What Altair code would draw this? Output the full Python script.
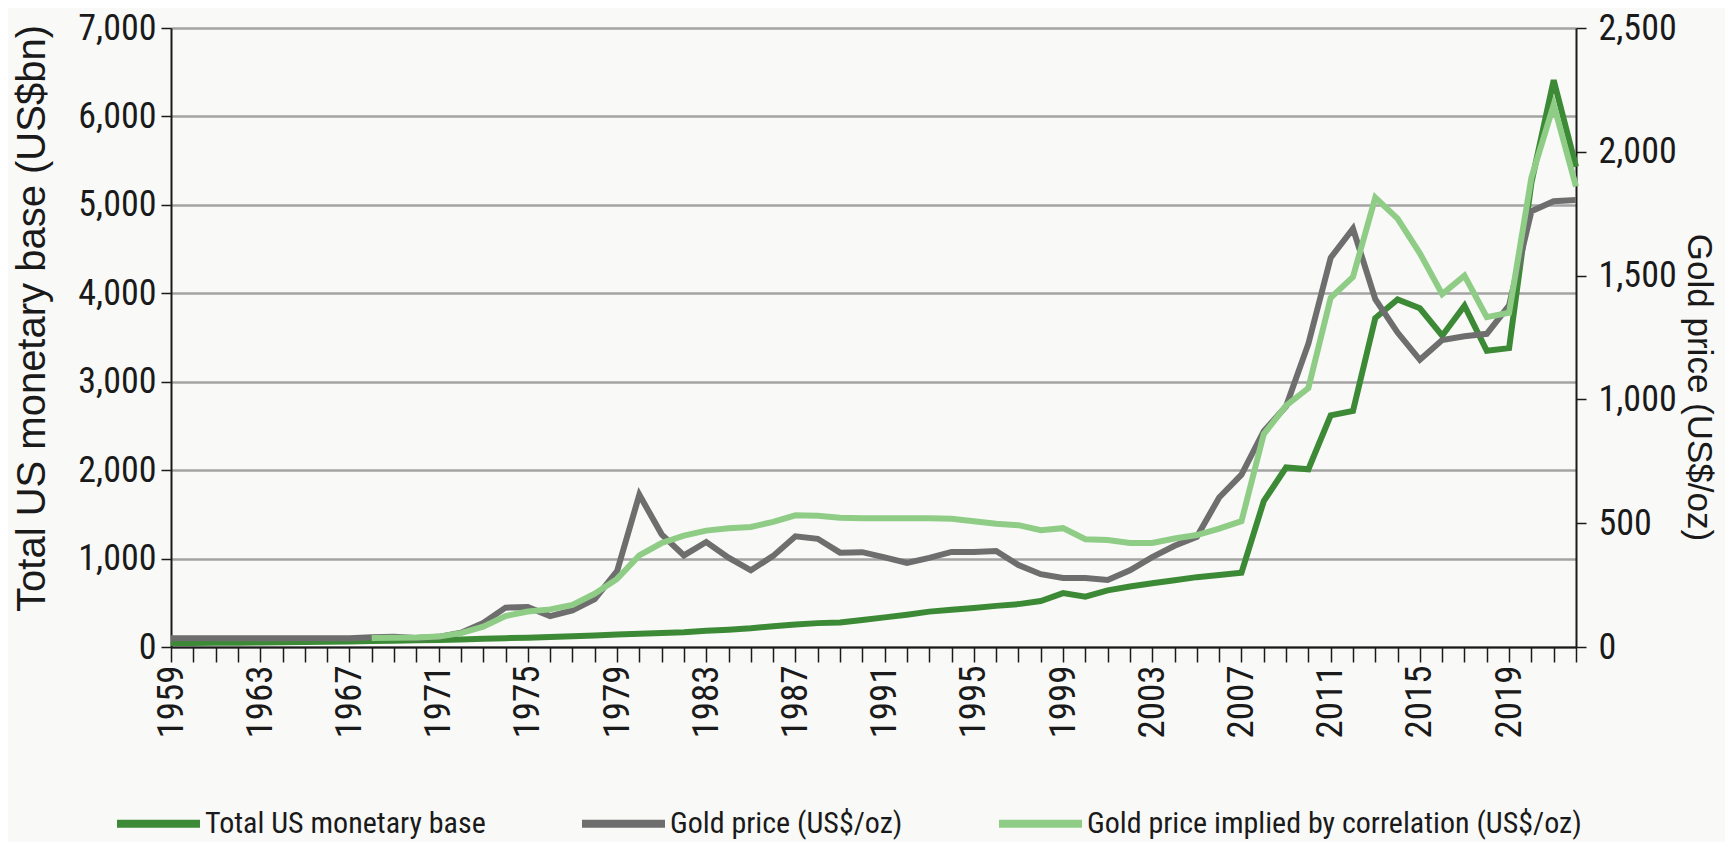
import altair as alt
import pandas as pd

years = list(range(1959, 2023))
monetary_base = [45, 46, 47, 49, 51, 54, 57, 60, 63,
                 67, 71, 75, 80, 86, 93, 100, 106, 113, 121,
                 131, 140, 151, 158, 168, 185, 196, 212, 235, 255,
                 270, 278, 305, 335, 365, 400, 420, 440, 465, 485,
                 520, 610, 570, 640, 685, 720, 755, 790, 815, 840,
                 1650, 2030, 2010, 2620, 2670, 3720, 3930, 3830, 3520, 3860,
                 3350, 3380, 5250, 6410, 5430]
gold_price = [35, 35, 35, 35, 35, 35, 35, 35, 35,
              39, 41, 36, 41, 58, 97, 159, 161, 125, 148,
              193, 306, 615, 455, 370, 424, 361, 310, 368, 447,
              437, 381, 383, 362, 340, 360, 384, 384, 388, 331,
              294, 279, 279, 271, 310, 363, 409, 445, 604, 696,
              872, 972, 1225, 1572, 1690, 1405, 1270, 1160, 1240, 1255,
              1265, 1380, 1760, 1800, 1805]
implied_years = list(range(1968, 2023))
implied_gold = [36, 37, 38, 42, 56, 82, 125, 143, 152, 170,
                215, 275, 370, 420, 450, 470, 480, 485, 505, 532,
                530, 522, 520, 520, 520, 520, 518, 508, 498, 492,
                472, 480, 435, 432, 420, 420, 438, 452, 478, 508,
                860, 975, 1046, 1410, 1495, 1815, 1730, 1590, 1425, 1500,
                1332, 1350, 1895, 2190, 1860]

S1 = "Total US monetary base"
S2 = "Gold price (US$/oz)"
S3 = "Gold price implied by correlation (US$/oz)"
series_names = [S1, S2, S3]
series_colors = ["#3d8a36", "#6e6e6e", "#8fcd86"]
left_ticks = [0, 1000, 2000, 3000, 4000, 5000, 6000, 7000]
right_ticks = [0, 500, 1000, 1500, 2000, 2500]

rows = []
for y, v in zip(years, monetary_base):
    rows.append({"year": y, "value": v, "series": S1})
for y, v in zip(years, gold_price):
    rows.append({"year": y, "value": v, "series": S2})
for y, v in zip(implied_years, implied_gold):
    rows.append({"year": y, "value": v, "series": S3})
df = pd.DataFrame(rows)

NARROW = "Roboto Condensed, Liberation Sans, sans-serif"
REG = "Liberation Sans, Arial, sans-serif"
INK = "#1a1a1a"

x_enc = alt.X(
    "year:Q",
    scale=alt.Scale(domain=[1959, 2022], nice=False, zero=False),
    axis=alt.Axis(
        values=years, format="d",
        labelExpr="(datum.value - 1959) % 4 == 0 ? datum.label : ''",
        labelAngle=270, tickSize=15, tickWidth=1.5, tickColor=INK,
        domainColor=INK, domainWidth=2, labelPadding=3,
        labelFlush=False, labelOverlap=False, labelBound=False,
        labelFont=NARROW, labelFontSize=37, labelColor=INK,
        title=None, grid=False,
    ),
)

color_enc = alt.Color(
    "series:N",
    scale=alt.Scale(domain=series_names, range=series_colors),
    legend=alt.Legend(
        orient="none", legendX=-58, legendY=750, direction="horizontal",
        title=None, symbolType="stroke", symbolSize=6889, symbolStrokeWidth=8,
        labelFont=NARROW, labelFontSize=30, labelColor=INK, labelLimit=0,
        labelOffset=1, columnPadding=80, padding=0,
    ),
)

base = alt.Chart(df)

left = base.transform_filter(alt.datum.series == S1).mark_line(strokeWidth=6).encode(
    x=x_enc,
    y=alt.Y(
        "value:Q",
        scale=alt.Scale(domain=[0, 7000], nice=False),
        axis=alt.Axis(
            values=left_ticks, format=",d", title="Total US monetary base (US$bn)",
            titleFont=REG, titleFontSize=40, titleFontWeight="normal", titleColor=INK,
            titlePadding=25, titleY=290,
            labelFont=NARROW, labelFontSize=36, labelColor=INK, labelPadding=5,
            tickSize=10, tickWidth=1.5, tickColor=INK, domainColor=INK, domainWidth=2,
            grid=True, gridColor="#a3a3a3", gridWidth=2.5,
        ),
    ),
    color=color_enc,
)

right = base.transform_filter(alt.datum.series != S1).mark_line(strokeWidth=6).encode(
    x=x_enc,
    y=alt.Y(
        "value:Q",
        scale=alt.Scale(domain=[0, 2500], nice=False),
        axis=alt.Axis(
            orient="right", values=right_ticks, format=",d", title="Gold price (US$/oz)",
            titleFont=REG, titleFontSize=35, titleFontWeight="normal", titleColor=INK,
            titlePadding=4, titleY=359,
            labelFont=NARROW, labelFontSize=36, labelColor=INK, labelPadding=12,
            tickSize=10, tickWidth=1.5, tickColor=INK, domainColor=INK, domainWidth=2,
            grid=False,
        ),
    ),
    color=color_enc,
)

chart = alt.layer(left, right).resolve_scale(y="independent").properties(
    width=1405, height=619,
    autosize=alt.AutoSizeParams(type="none"),
    padding={"left": 163, "top": 20, "right": 149, "bottom": 195},
    background="#f9f9f8",
).configure_view(stroke=None)

chart.save("out.html", embed_options={"renderer": "svg", "actions": False})
